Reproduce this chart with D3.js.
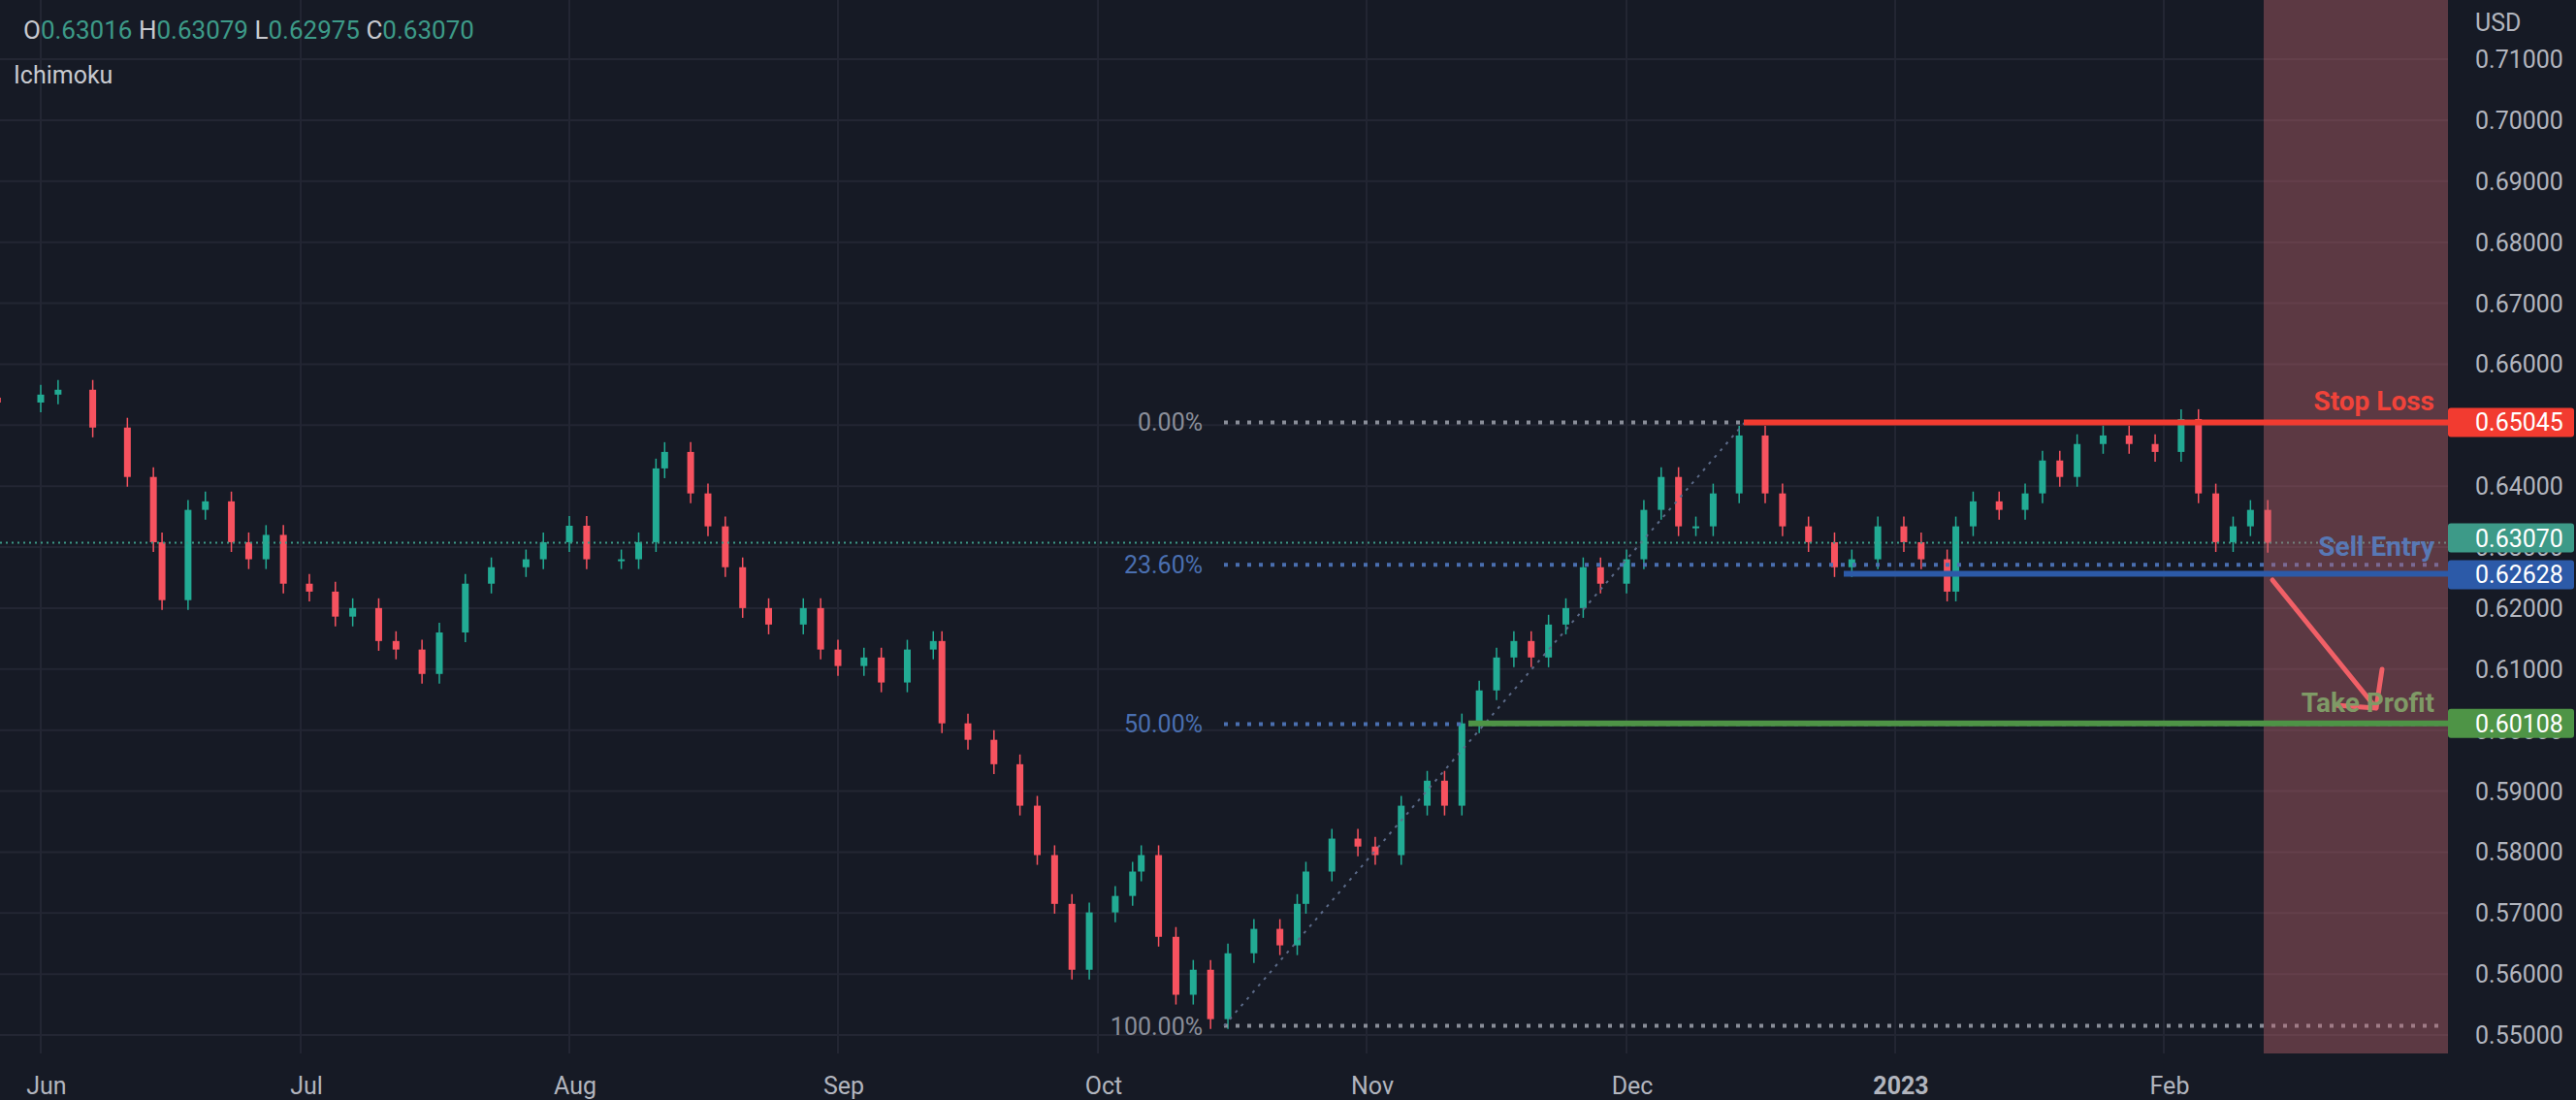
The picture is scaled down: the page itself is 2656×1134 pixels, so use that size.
<!DOCTYPE html>
<html><head><meta charset="utf-8">
<script src="https://cdn.jsdelivr.net/npm/d3@7/dist/d3.min.js"></script>
<style>body{margin:0;background:#161a25;}svg{display:block;font-family:Roboto,"Noto Sans",sans-serif;}</style>
</head><body><svg id="c" width="2656" height="1134"></svg>
<script>
const dates = ["2022-05-27","2022-06-01","2022-06-03","2022-06-07","2022-06-11","2022-06-14","2022-06-15","2022-06-18","2022-06-20","2022-06-23","2022-06-25","2022-06-27","2022-06-29","2022-07-02","2022-07-05","2022-07-07","2022-07-10","2022-07-12","2022-07-15","2022-07-17","2022-07-20","2022-07-23","2022-07-27","2022-07-29","2022-08-01","2022-08-03","2022-08-07","2022-08-09","2022-08-11","2022-08-12","2022-08-15","2022-08-17","2022-08-19","2022-08-21","2022-08-24","2022-08-28","2022-08-30","2022-09-01","2022-09-04","2022-09-06","2022-09-09","2022-09-12","2022-09-13","2022-09-16","2022-09-19","2022-09-22","2022-09-24","2022-09-26","2022-09-28","2022-09-30","2022-10-03","2022-10-05","2022-10-06","2022-10-08","2022-10-10","2022-10-12","2022-10-14","2022-10-16","2022-10-19","2022-10-22","2022-10-24","2022-10-25","2022-10-28","2022-10-31","2022-11-02","2022-11-05","2022-11-08","2022-11-10","2022-11-12","2022-11-14","2022-11-16","2022-11-18","2022-11-20","2022-11-22","2022-11-24","2022-11-26","2022-11-28","2022-12-01","2022-12-03","2022-12-05","2022-12-07","2022-12-09","2022-12-11","2022-12-14","2022-12-17","2022-12-19","2022-12-22","2022-12-25","2022-12-27","2022-12-30","2023-01-02","2023-01-04","2023-01-07","2023-01-08","2023-01-10","2023-01-13","2023-01-16","2023-01-18","2023-01-20","2023-01-22","2023-01-25","2023-01-28","2023-01-31","2023-02-03","2023-02-05","2023-02-07","2023-02-09","2023-02-11","2023-02-13"];
const closes = [0.6537,0.655,0.6558,0.6496,0.6415,0.6308,0.6213,0.6361,0.6375,0.6308,0.628,0.632,0.624,0.6227,0.6186,0.62,0.6146,0.6132,0.6092,0.616,0.624,0.6267,0.628,0.6308,0.6335,0.628,0.628,0.6308,0.6429,0.6456,0.6388,0.6334,0.6267,0.62,0.6173,0.62,0.6132,0.6105,0.6119,0.6078,0.6132,0.6146,0.6011,0.5984,0.5944,0.5876,0.5795,0.5715,0.5607,0.5701,0.5728,0.5768,0.5795,0.5661,0.5566,0.5607,0.5526,0.5634,0.5674,0.5647,0.5715,0.5768,0.5822,0.5809,0.5795,0.5876,0.5917,0.5876,0.6011,0.6065,0.6119,0.6146,0.6119,0.6173,0.62,0.6267,0.624,0.628,0.6361,0.6415,0.6334,0.6334,0.6388,0.6483,0.6388,0.6334,0.6308,0.6267,0.628,0.6334,0.6308,0.628,0.6227,0.6334,0.6375,0.6361,0.6388,0.6442,0.6415,0.6469,0.6483,0.6469,0.6456,0.651,0.6388,0.6308,0.6334,0.6361,0.6307];
const priceTicks = [0.71,0.70,0.69,0.68,0.67,0.66,0.65,0.64,0.63,0.62,0.61,0.60,0.59,0.58,0.57,0.56,0.55];
const monthTicks = ["2022-06-01","2022-07-01","2022-08-01","2022-09-01","2022-10-01","2022-11-01","2022-12-01","2023-01-01","2023-02-01"];
const monthLabels = ["Jun","Jul","Aug","Sep","Oct","Nov","Dec","2023","Feb"];
const stopLoss = 0.65045, sellEntry = 0.62628, takeProfit = 0.60108, lastPrice = 0.63070;
const fibHigh = 0.65045, fibLow = 0.5515;
const fibLevels = [0, 0.236, 0.5, 1];
const fibLabels = ["0.00%","23.60%","50.00%","100.00%"];
const ohlc = {O:"0.63016",H:"0.63079",L:"0.62975",C:"0.63070"};

const pd = d3.timeParse("%Y-%m-%d");
const W=2524, B=1086;
const x = d3.scaleTime().domain([pd("2022-06-01"),pd("2023-02-01")]).range([42,2231]);
const y = d3.scaleLinear().domain([0.55,0.71]).range([1067,61]);
const svg = d3.select("#c");
svg.append("rect").attr("width",2656).attr("height",1134).attr("fill","#161a25");
const g = svg.append("g");
g.selectAll(".hg").data(priceTicks).join("line").attr("x1",0).attr("x2",W).attr("y1",d=>y(d)).attr("y2",d=>y(d)).attr("stroke","#232633").attr("stroke-width",2);
g.selectAll(".vg").data(monthTicks).join("line").attr("x1",d=>x(pd(d))).attr("x2",d=>x(pd(d))).attr("y1",0).attr("y2",B).attr("stroke","#232633").attr("stroke-width",2);
const candles = closes.map((c,i)=>{const o=i?closes[i-1]:c+0.0008;return {t:pd(dates[i]),o,c,h:Math.max(o,c)+0.0016,l:Math.min(o,c)-0.0016};});
const cg = g.append("g");
cg.selectAll("line").data(candles).join("line").attr("x1",d=>x(d.t)).attr("x2",d=>x(d.t)).attr("y1",d=>y(d.h)).attr("y2",d=>y(d.l)).attr("stroke",d=>d.c>=d.o?"#22ab94":"#f7525f").attr("stroke-width",1.5);
cg.selectAll("rect").data(candles).join("rect").attr("x",d=>x(d.t)-3.5).attr("width",7).attr("y",d=>y(Math.max(d.o,d.c))).attr("height",d=>Math.max(2,Math.abs(y(d.o)-y(d.c)))).attr("fill",d=>d.c>=d.o?"#22ab94":"#f7525f");
const fx1=1262, fx2=2521;
const fibCols=["#8a8e99","#4a6fb0","#4a6fb0","#8a8e99"];
fibLevels.forEach((f,i)=>{const p=fibHigh-(fibHigh-fibLow)*f;
 g.append("line").attr("x1",fx1).attr("x2",fx2).attr("y1",y(p)).attr("y2",y(p)).attr("stroke",fibCols[i]).attr("stroke-width",4).attr("stroke-dasharray","4 8");
 g.append("text").attr("x",1240).attr("y",y(p)+9).attr("text-anchor","end").attr("fill",fibCols[i]).attr("font-size",25).text(fibLabels[i]);});
g.append("line").attr("x1",fx1).attr("y1",y(fibLow)).attr("x2",1799).attr("y2",y(fibHigh)).attr("stroke","#5b6a88").attr("stroke-width",2).attr("stroke-dasharray","3 6");
g.append("line").attr("x1",0).attr("x2",W).attr("y1",y(lastPrice)).attr("y2",y(lastPrice)).attr("stroke","#3d9a88").attr("stroke-width",2).attr("stroke-dasharray","2 4");
g.append("rect").attr("x",2334).attr("y",0).attr("width",W-2334).attr("height",B).attr("fill","rgba(190,100,110,0.42)");
g.append("line").attr("x1",1798).attr("x2",W).attr("y1",y(stopLoss)).attr("y2",y(stopLoss)).attr("stroke","#f23b30").attr("stroke-width",6);
g.append("line").attr("x1",1901).attr("x2",W).attr("y1",y(sellEntry)+4).attr("y2",y(sellEntry)+4).attr("stroke","#2c5aa8").attr("stroke-width",6);
g.append("line").attr("x1",1514).attr("x2",W).attr("y1",y(takeProfit)).attr("y2",y(takeProfit)).attr("stroke","#4e9446").attr("stroke-width",6);
g.append("text").attr("x",2510).attr("y",y(stopLoss)-12).attr("text-anchor","end").attr("fill","#f0433a").attr("font-size",28).attr("font-weight","bold").text("Stop Loss");
g.append("text").attr("x",2510).attr("y",y(sellEntry)-14).attr("text-anchor","end").attr("fill","#5878b5").attr("font-size",28).attr("font-weight","bold").text("Sell Entry");
g.append("path").attr("d","M2343,598 L2450,730 M2408,727 L2450,730 L2456,690").attr("fill","none").attr("stroke","#f06067").attr("stroke-width",5).attr("stroke-linecap","round").attr("stroke-linejoin","round");
g.append("text").attr("x",2510).attr("y",y(takeProfit)-12).attr("text-anchor","end").attr("fill","#7f9a66").attr("font-size",28).attr("font-weight","bold").text("Take Profit");
const ax = svg.append("g").attr("transform",`translate(${W+28},0)`);
ax.selectAll("text").data(priceTicks).join("text").attr("x",0).attr("y",d=>y(d)+9).attr("fill","#b2b5be").attr("font-size",25).text(d=>d.toFixed(5));
ax.append("text").attr("x",0).attr("y",32).attr("fill","#b2b5be").attr("font-size",25).text("USD");
[[stopLoss,"#f23b30"],[lastPrice,"#3d9a88"],[sellEntry,"#2c5aa8"],[takeProfit,"#4e9446"]].forEach(([p,c])=>{
 const yy = p===sellEntry? y(p)+5 : p===lastPrice? y(p)-5 : y(p);
 svg.append("rect").attr("x",W).attr("y",yy-15).attr("width",130).attr("height",30).attr("rx",3).attr("fill",c);
 svg.append("text").attr("x",W+28).attr("y",yy+9).attr("fill","#ffffff").attr("font-size",25).text(p.toFixed(5));});
svg.selectAll(".ml").data(monthTicks).join("text").attr("x",(d)=>x(pd(d))+6).attr("y",1128).attr("text-anchor","middle").attr("fill","#b2b5be").attr("font-size",25).attr("font-weight",(d,i)=>monthLabels[i]==="2023"?"bold":"normal").text((d,i)=>monthLabels[i]);
const h = svg.append("text").attr("x",24).attr("y",40).attr("font-size",26);
Object.entries(ohlc).forEach(([k,v])=>{h.append("tspan").attr("fill","#c8cad0").text(k);h.append("tspan").attr("fill","#3d9a88").text(v+" ");});
svg.append("text").attr("x",14).attr("y",86).attr("fill","#c8cad0").attr("font-size",25).text("Ichimoku");
</script></body></html>
